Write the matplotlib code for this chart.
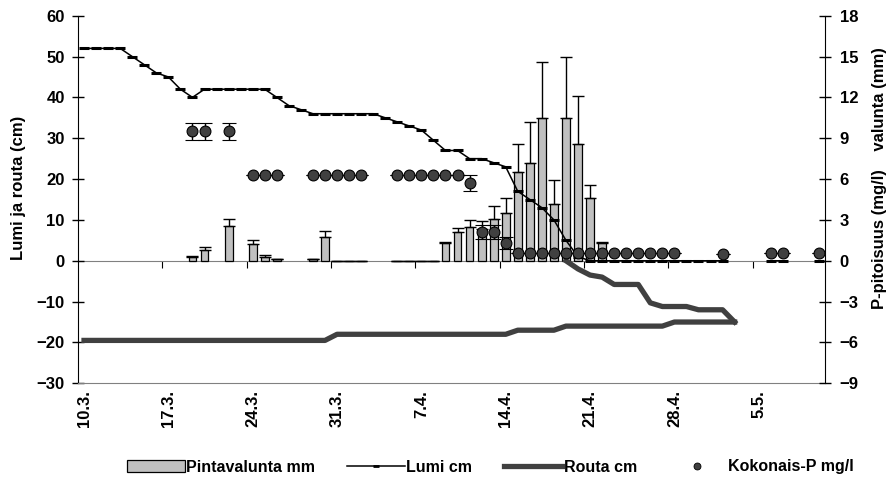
import numpy as np
import matplotlib.pyplot as plt
from matplotlib.patches import Patch
from matplotlib.lines import Line2D

nan = np.nan

# päivät 10.3. -> 10.5. (päivä 0 = 10.3.)
paivat = np.arange(62)
tick_paivat = [0, 7, 14, 21, 28, 35, 42, 49, 56]
tick_tekstit = ['10.3.', '17.3.', '24.3.', '31.3.', '7.4.', '14.4.', '21.4.', '28.4.', '5.5.']

# lumen syvyys (cm)
lumi = [52, 52, 52, 52, 50, 48, 46, 45, 42, 40,
        42, 42, 42, 42, 42, 42, 40, 38, 37, 36,
        36, 36, 36, 36, 36, 35, 34, 33, 32, 29.5,
        27, 27, 25, 25, 24, 23, 17, 15, 13, 10,
        5, 1, 0, 0, 0, 0, 0, 0, 0, 0,
        0, 0, 0, 0, nan, nan, nan, 0, 0, nan,
        nan, 0]

# roudan alapinta ja sulanut pintakerros (cm)
routa_ala = [-19.5] * 21 + [-18] * 15 + [-17] * 4 + [-16] * 9 + [-15] * 6 + [nan] * 7
routa_yla = [nan] * 40 + [0, -2, -3.5, -4, -5.8, -5.8, -5.8, -10.3, -11.2, -11.2,
                          -11.2, -12, -12, -12, -15] + [nan] * 7

# pintavalunta (mm) ja keskihajonta
valunta_paivat = [9, 10, 12, 14, 15, 16, 19, 20, 21, 22, 23, 26, 27, 28, 29,
                  30, 31, 32, 33, 34, 35, 36, 37, 38, 39, 40, 41, 42, 43]
valunta = [0.3, 0.8, 2.55, 1.2, 0.3, 0.1, 0.1, 1.75, 0, 0, 0, 0, 0, 0, 0,
           1.3, 2.1, 2.45, 2.35, 3.1, 3.5, 6.5, 7.15, 10.45, 4.15, 10.45, 8.6, 4.6, 1.3]
valunta_hajonta = [0.05, 0.2, 0.55, 0.3, 0.1, 0, 0, 0.45, 0, 0, 0, 0, 0, 0, 0,
                   0.05, 0.3, 0.55, 0.55, 0.95, 1.1, 2.1, 3.05, 4.15, 1.8, 4.55, 3.5, 0.95, 0.05]

# kokonaisfosfori (mg/l) ja keskihajonta
p_paivat = [9, 10, 12, 14, 15, 16, 19, 20, 21, 22, 23, 26, 27, 28, 29, 30, 31,
            32, 33, 34, 35, 36, 37, 38, 39, 40, 41, 42, 43, 44, 45, 46, 47, 48, 49,
            53, 57, 58, 61]
p_pitoisuus = [9.5, 9.5, 9.5, 6.3, 6.3, 6.3, 6.3, 6.3, 6.3, 6.3, 6.3, 6.3, 6.3, 6.3, 6.3, 6.3, 6.3,
               5.7, 2.1, 2.1, 1.3, 0.55, 0.55, 0.55, 0.55, 0.55, 0.55, 0.55, 0.55, 0.55, 0.55, 0.55,
               0.55, 0.55, 0.6, 0.5, 0.55, 0.55, 0.55]
p_hajonta = [0.6, 0.6, 0.6, 0, 0, 0, 0, 0, 0, 0, 0, 0, 0, 0, 0, 0, 0,
             0.6, 0.5, 0.5, 0.45, 0, 0, 0, 0, 0, 0, 0, 0, 0, 0, 0,
             0, 0, 0, 0, 0, 0, 0]

plt.rcParams['font.family'] = ['Liberation Sans', 'DejaVu Sans']
plt.rcParams['font.weight'] = 'bold'
plt.rcParams['font.size'] = 12

fig = plt.figure(figsize=(8.95, 4.79), dpi=100)
ax = fig.add_axes([78 / 895, 1 - 383.3 / 479, (825 - 78) / 895, (383.3 - 15.7) / 479])
ax.set_xlim(-0.5, 61.5)
ax.set_ylim(-30, 60)
ax.set_yticks(np.arange(-30, 61, 10))

axr = ax.twinx()   # valunta-pylväät + oikea akseli
axl = ax.twinx()   # lumi ja routa
axp = ax.twinx()   # fosfori
axr.set_ylim(-9, 18)
axr.set_yticks(np.arange(-9, 19, 3))
axl.set_ylim(-30, 60)
axp.set_ylim(-9, 18)
axl.set_axis_off()
axp.set_axis_off()

# pylväät
nolla = np.zeros(len(valunta))
palkit = axr.bar(valunta_paivat, valunta, width=0.65, color='#c0c0c0', edgecolor='black',
                 linewidth=0.9, yerr=[nolla, valunta_hajonta], capsize=4,
                 error_kw=dict(elinewidth=1, capthick=1, ecolor='black'))

# lumi ja routa
lumi_viiva, = axl.plot(paivat, lumi, color='black', lw=1.1, marker='_', ms=7, mew=2.2)
routa_viiva, = axl.plot(paivat, routa_ala, color='#404040', lw=3.8)
axl.plot(paivat, routa_yla, color='#404040', lw=3.8)

# fosfori
axp.errorbar(p_paivat, p_pitoisuus, yerr=p_hajonta, fmt='o', color='#404040', mec='black',
             mew=0.8, ms=7.8, ecolor='black', elinewidth=1, capsize=5, capthick=1)

# akselit
for s in ['top', 'right']:
    ax.spines[s].set_visible(False)
ax.spines['bottom'].set_color('#808080')
ax.spines['left'].set_color('black')
for s in ['top', 'left', 'bottom']:
    axr.spines[s].set_visible(False)
axr.spines['right'].set_color('black')

ax.set_xticks(tick_paivat, tick_tekstit, rotation=90)
ax.tick_params(axis='x', length=0, pad=5)
ax.tick_params(axis='y', direction='inout', length=9, width=1, pad=5)
axr.tick_params(axis='y', direction='inout', length=9, width=1, pad=6)

nollataso = ax.secondary_xaxis(1 / 3)
nollataso.set_xticks(np.array(tick_paivat[1:]) - 0.5)
nollataso.tick_params(direction='out', length=5, labelbottom=False, color='black')
nollataso.spines['bottom'].set_color('#808080')

fig.text(19 / 895, 1 - 188 / 479, 'Lumi ja routa (cm)', rotation=90, ha='center', va='center')
fig.text(880 / 895, 1 - 178 / 479, 'P-pitoisuus (mg/l)    valunta (mm)', rotation=90,
         ha='center', va='center')

kahvat = [Patch(facecolor='#c0c0c0', edgecolor='black', lw=0.9),
          Line2D([], [], color='black', lw=1.1, marker='_', ms=5, mew=2),
          Line2D([], [], color='#404040', lw=3.8),
          Line2D([], [], color='#404040', ls='none', marker='o', ms=5, mec='black', mew=0.6)]
fig.legend(kahvat, ['Pintavalunta mm', 'Lumi cm', 'Routa cm', 'Kokonais-P mg/l'],
           loc='center', bbox_to_anchor=(0.548, 1 - 467 / 479), ncol=4, frameon=False,
           fontsize=11.5, handlelength=3.6, handletextpad=0.1, columnspacing=2.0)

fig.savefig('out.png', dpi=100)
